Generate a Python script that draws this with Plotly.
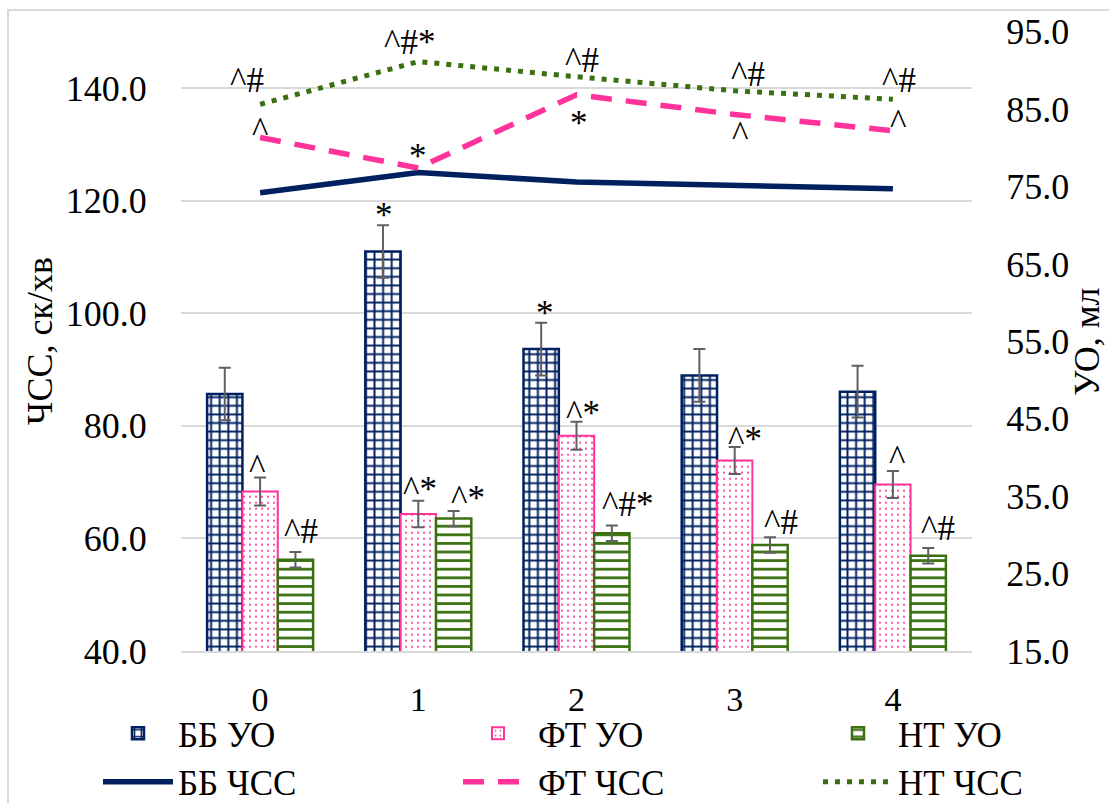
import plotly.graph_objects as go

# ---------------- data ----------------
categories = [0, 1, 2, 3, 4]
tick_labels = ["0", "1", "2", "3", "4"]

bb_uo = [48.2, 66.6, 54.0, 50.6, 48.5]
bb_uo_err = [3.4, 3.4, 3.4, 3.4, 3.35]
ft_uo = [35.6, 32.7, 42.8, 39.6, 36.5]
ft_uo_err = [1.8, 1.7, 1.8, 1.75, 1.75]
nt_uo = [26.8, 32.1, 30.2, 28.7, 27.3]
nt_uo_err = [1.0, 1.0, 1.0, 1.0, 1.0]

bb_hr = [121.4, 125.0, 123.3, 122.6, 122.1]
ft_hr = [131.2, 125.8, 138.8, 135.3, 132.4]
nt_hr = [137.1, 144.7, 142.0, 139.5, 138.0]

bb_uo_marks = ["", "*", "*", "", ""]
ft_uo_marks = ["^", "^*", "^*", "^*", "^"]
nt_uo_marks = ["^#", "^*", "^#*", "^#", "^#"]
ft_hr_marks = ["^", "*", "*", "^", "^"]
nt_hr_marks = ["^#", "^#*", "^#", "^#", "^#"]

left_ticks = [40, 60, 80, 100, 120, 140]
right_ticks = [15, 25, 35, 45, 55, 65, 75, 85, 95]

# ---------------- style ----------------
W, H = 1109, 803
NAVY = "#002060"
PINK = "#FF3399"
GREEN = "#3A700F"
GRID = "#D9D9D9"
ERR = "#606060"
FONT = "Liberation Serif"
FS = 36
XFS = 34
LFS = 35
AFS = 35
BARGAP = 0.33

# label offsets (px, box centre relative to anchor; +dy = down)
bb_uo_off = [(0, 0), (1, -10), (3.5, -9), (0, 0), (0, 0)]
ft_uo_off = [(-3.5, -10), (2, -11), (6.5, -8), (10.5, -7.5), (4, -12.5)]
nt_uo_off = [(5.5, -20), (14, -12), (15.5, -21), (10.5, -14.5), (9.5, -20)]
ft_hr_off = [(0, -7), (0, -11), (2.5, 29), (5, 20), (5, -8)]
nt_hr_off = [(-13, -24), (-9, -19), (5, -16), (13, -16), (6, -18.5)]

fig = go.Figure()

def bar(name, y, err, color, shape, size, solidity, lw):
    return go.Bar(
        name=name, x=categories, y=y, yaxis="y2",
        marker=dict(
            color="white",
            line=dict(color=color, width=lw),
            pattern=dict(shape=shape, fgcolor=color, bgcolor="white",
                         size=size, solidity=solidity, fillmode="replace"),
        ),
        error_y=dict(type="data", array=err, visible=True, color=ERR,
                     thickness=2, width=6),
    )

fig.add_trace(bar("ББ УО", bb_uo, bb_uo_err, NAVY, "+", 8.6, 0.4, 2.5))
fig.add_trace(bar("ФТ УО", ft_uo, ft_uo_err, PINK, ".", 6, 0.1, 2))
fig.add_trace(bar("НТ УО", nt_uo, nt_uo_err, GREEN, "-", 8.6, 0.32, 2.5))

fig.add_trace(go.Scatter(name="ББ ЧСС", x=categories, y=bb_hr, mode="lines",
                         line=dict(color=NAVY, width=5.5)))
fig.add_trace(go.Scatter(name="ФТ ЧСС", x=categories, y=ft_hr, mode="lines",
                         line=dict(color=PINK, width=5.5, dash="21px,14px")))
fig.add_trace(go.Scatter(name="НТ ЧСС", x=categories, y=nt_hr, mode="lines",
                         line=dict(color=GREEN, width=5, dash="5px,7px")))

annotations = []
bw = (1 - BARGAP) / 3.0

def add_labels(marks, xs_off, ys, offs, yref):
    for i, (m, y, (dx, dy)) in enumerate(zip(marks, ys, offs)):
        if not m:
            continue
        annotations.append(dict(
            x=categories[i] + xs_off, y=y, xref="x", yref=yref,
            text=m, showarrow=False, xanchor="center", yanchor="middle",
            xshift=dx, yshift=-dy,
            font=dict(family=FONT, size=AFS, color="black"),
        ))

add_labels(bb_uo_marks, -bw, [v + e for v, e in zip(bb_uo, bb_uo_err)], bb_uo_off, "y2")
add_labels(ft_uo_marks, 0, [v + e for v, e in zip(ft_uo, ft_uo_err)], ft_uo_off, "y2")
add_labels(nt_uo_marks, bw, [v + e for v, e in zip(nt_uo, nt_uo_err)], nt_uo_off, "y2")
add_labels(ft_hr_marks, 0, ft_hr, ft_hr_off, "y")
add_labels(nt_hr_marks, 0, nt_hr, nt_hr_off, "y")

# axis titles
annotations.append(dict(x=40 / W, y=1 - 341 / H, xref="paper", yref="paper",
                        text="ЧСС, ск/хв", textangle=-90, showarrow=False,
                        xanchor="center", yanchor="middle",
                        font=dict(family=FONT, size=FS, color="black")))
annotations.append(dict(x=1087 / W, y=1 - 342 / H, xref="paper", yref="paper",
                        text="УО, мл", textangle=-90, showarrow=False,
                        xanchor="center", yanchor="middle",
                        font=dict(family=FONT, size=FS, color="black")))

x0, x1 = 181 / W, 972 / W
y0, y1 = 1 - 651 / H, 1 - 31.7 / H

fig.update_layout(
    template="none",
    width=W, height=H,
    margin=dict(l=0, r=0, t=0, b=0, autoexpand=False),
    paper_bgcolor="white", plot_bgcolor="white",
    barmode="group", bargap=BARGAP, bargroupgap=0,
    font=dict(family=FONT, size=FS, color="black"),
    xaxis=dict(domain=[x0, x1], tickmode="array", tickvals=categories,
               ticktext=tick_labels, range=[-0.5, 4.5], automargin=False,
               showline=True, linecolor=GRID, linewidth=2,
               ticks="outside", ticklen=17, tickcolor="rgba(0,0,0,0)",
               showgrid=False, zeroline=False, anchor="y",
               tickfont=dict(family=FONT, size=XFS, color="black")),
    yaxis=dict(domain=[y0, y1], range=[40, 150], tickmode="array",
               tickvals=left_ticks, ticktext=[f"{v:.1f}" for v in left_ticks],
               showgrid=True, gridcolor=GRID, gridwidth=2, zeroline=False,
               showline=False, ticks="outside", ticklen=26, automargin=False,
               tickcolor="rgba(0,0,0,0)", anchor="x",
               tickfont=dict(family=FONT, size=FS, color="black")),
    yaxis2=dict(domain=[y0, y1], range=[15, 95], tickmode="array",
                tickvals=right_ticks, ticktext=[f"{v:.1f}" for v in right_ticks],
                overlaying="y", side="right", anchor="x", automargin=False,
                showgrid=False, zeroline=False, showline=False,
                ticks="outside", ticklen=26, tickcolor="rgba(0,0,0,0)",
                tickfont=dict(family=FONT, size=FS, color="black")),
    legend=dict(orientation="h", x=98 / W, xanchor="left",
                y=-8 / H, yanchor="bottom",
                entrywidth=275, entrywidthmode="pixels", itemwidth=70,
                font=dict(family=FONT, size=LFS, color="black"),
                bgcolor="rgba(0,0,0,0)", traceorder="normal"),
    annotations=annotations,
    shapes=[dict(type="rect", xref="paper", yref="paper",
                 x0=8 / W, x1=1.02, y0=-0.02, y1=1 - 10 / H,
                 line=dict(color=GRID, width=2), fillcolor="rgba(0,0,0,0)",
                 layer="below")],
    showlegend=True,
)

fig.write_html(
    "out.html",
    config={"displayModeBar": False},
    post_script="document.body.style.margin='0px';document.body.style.overflow='hidden';",
)
